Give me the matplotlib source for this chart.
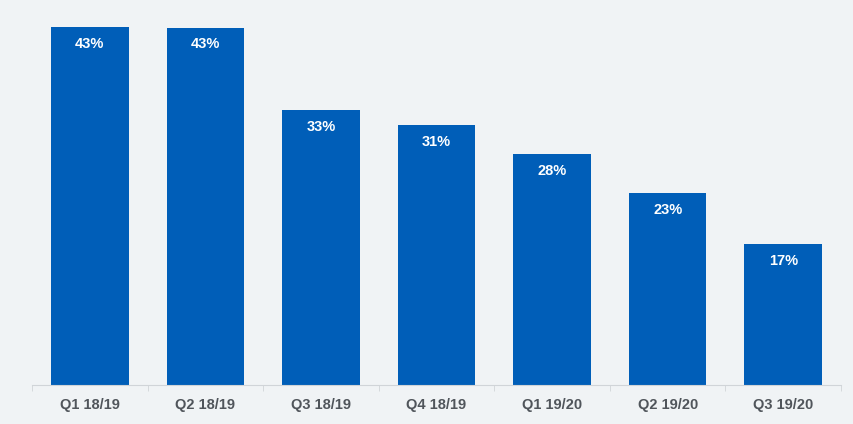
import numpy as np
import matplotlib.pyplot as plt

plt.rcParams['font.family'] = ['Liberation Sans', 'DejaVu Sans']

quarters = ['Q1 18/19', 'Q2 18/19', 'Q3 18/19', 'Q4 18/19', 'Q1 19/20', 'Q2 19/20', 'Q3 19/20']
share = [43, 42.9, 33, 31.2, 27.7, 23, 16.9]
labels = ['43%', '43%', '33%', '31%', '28%', '23%', '17%']

bg = '#f0f3f5'
fig = plt.figure(figsize=(8.54, 4.24), dpi=100, facecolor=bg)
ax = fig.add_axes([32 / 854, 39 / 424, 809 / 854, 375 / 424], facecolor=bg)

x = np.arange(len(quarters))
bars = ax.bar(x, share, width=0.67, color='#005eb8')
for b, lab in zip(bars, labels):
    # percentage label just inside the top of each bar
    ax.annotate(lab, (b.get_x() + b.get_width() / 2, b.get_height()),
                xytext=(0, -17), textcoords='offset pixels',
                ha='center', va='center', color='white', fontweight='bold', fontsize=10.5)

ax.set_xlim(-0.5, len(quarters) - 0.5)
ax.set_ylim(0, 45)
ax.set_xticks(x)
ax.set_xticklabels(quarters, fontweight='bold', fontsize=10.5, color='#50555b')
ax.set_xticks(np.arange(-0.5, len(quarters)), minor=True)
ax.tick_params(axis='x', which='major', length=0, pad=9)
ax.tick_params(axis='x', which='minor', length=4, color='#d0d4d8')
ax.set_yticks([])
for s in ['top', 'right', 'left']:
    ax.spines[s].set_visible(False)
ax.spines['bottom'].set_color('#d0d4d8')

plt.savefig('out.png', dpi=100, facecolor=bg)
